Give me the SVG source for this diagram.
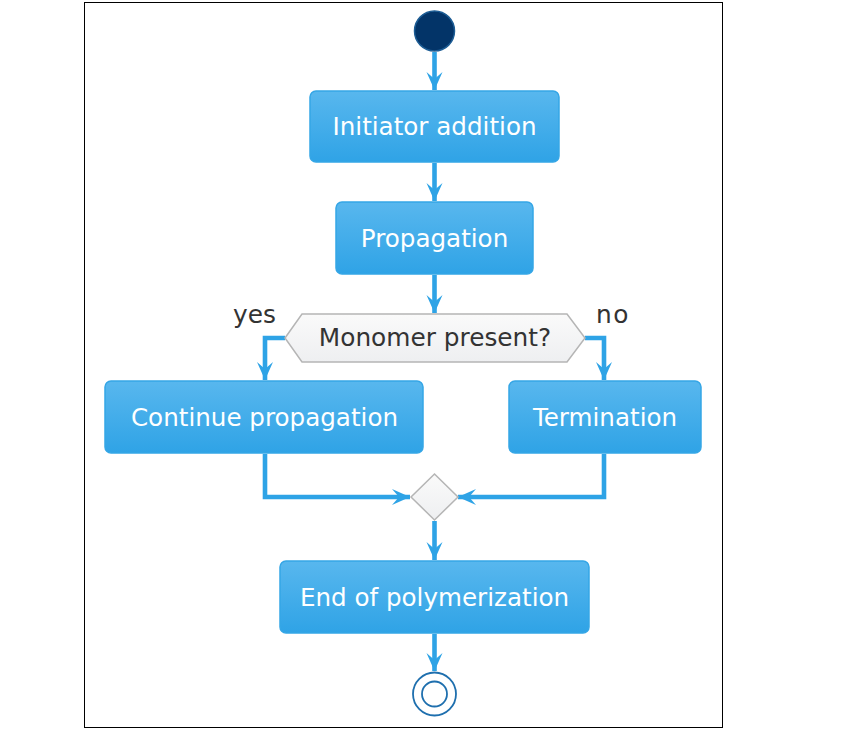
<svg xmlns="http://www.w3.org/2000/svg" width="851" height="745" viewBox="0 0 851 745">
<defs>
<linearGradient id="g" x1="0" y1="0" x2="0" y2="1"><stop offset="0" stop-color="#58b7ee"/><stop offset="1" stop-color="#2fa3e6"/></linearGradient>
<linearGradient id="gd" x1="0" y1="0" x2="0" y2="1"><stop offset="0" stop-color="#fafafa"/><stop offset="1" stop-color="#eeeff1"/></linearGradient>
<marker id="ah" viewBox="0 0 20 20" refX="18" refY="10" markerWidth="20" markerHeight="20" markerUnits="userSpaceOnUse" orient="auto"><path d="M0,2 L18,10 L0,18 L7,10 Z" fill="#2ea3e6"/></marker>
</defs>
<style>
.box{fill:url(#g);stroke:#35a6e6;stroke-width:1.5}
.t{font-family:"DejaVu Sans",Verdana,sans-serif;font-size:24.6px;fill:#ffffff;text-anchor:middle}
.d{font-family:"DejaVu Sans",Verdana,sans-serif;font-size:24.8px;fill:#333333}
.c{fill:none;stroke:#2ea3e6;stroke-width:4.6}
</style>
<rect x="84.5" y="2.5" width="638" height="725" fill="#ffffff" stroke="#000000" stroke-width="1"/>
<g id="connectors">
<path class="c" d="M434.5,52 V90" marker-end="url(#ah)"/>
<path class="c" d="M434.5,163 V201" marker-end="url(#ah)"/>
<path class="c" d="M434.5,275 V313" marker-end="url(#ah)"/>
<path class="c" d="M285,338 H265 V380" marker-end="url(#ah)"/>
<path class="c" d="M585,338 H604 V380" marker-end="url(#ah)"/>
<path class="c" d="M265,454 V497 H410" marker-end="url(#ah)"/>
<path class="c" d="M604,454 V497 H458" marker-end="url(#ah)"/>
<path class="c" d="M434.5,521 V560" marker-end="url(#ah)"/>
<path class="c" d="M434.5,634 V671" marker-end="url(#ah)"/>
<text class="d" x="233" y="323">yes</text>
<text class="d" x="596" y="323" letter-spacing="1.5">no</text>
</g>
<g id="start"><circle cx="434.5" cy="31" r="20" fill="#033468" stroke="#1d5d95" stroke-width="1.5"/></g>
<g id="initiator"><rect class="box" x="310" y="91" width="249" height="71" rx="6"/><text class="t" x="434.5" y="135">Initiator addition</text></g>
<g id="propagation"><rect class="box" x="336" y="202" width="197" height="72" rx="6"/><text class="t" x="434.5" y="247">Propagation</text></g>
<g id="decision"><polygon points="285,338 302,314 567,314 585,338 567,362 302,362" fill="url(#gd)" stroke="#b5b5b5" stroke-width="1.5"/><text class="d" x="435" y="346" text-anchor="middle">Monomer present?</text></g>
<g id="continue"><rect class="box" x="105" y="381" width="318" height="72" rx="6"/><text class="t" x="264.5" y="426">Continue propagation</text></g>
<g id="termination"><rect class="box" x="509" y="381" width="192" height="72" rx="6"/><text class="t" x="605" y="426">Termination</text></g>
<g id="merge"><polygon points="434.5,474 458,497 434.5,520 411,497" fill="url(#gd)" stroke="#b5b5b5" stroke-width="1.5"/></g>
<g id="end"><rect class="box" x="280" y="561" width="309" height="72" rx="6"/><text class="t" x="434.5" y="606">End of polymerization</text></g>
<g id="stop"><circle cx="434.5" cy="694" r="21.5" fill="#ffffff" stroke="#1e6fae" stroke-width="1.8"/><circle cx="434.5" cy="694" r="12.5" fill="#ffffff" stroke="#1e6fae" stroke-width="1.8"/></g>
</svg>
